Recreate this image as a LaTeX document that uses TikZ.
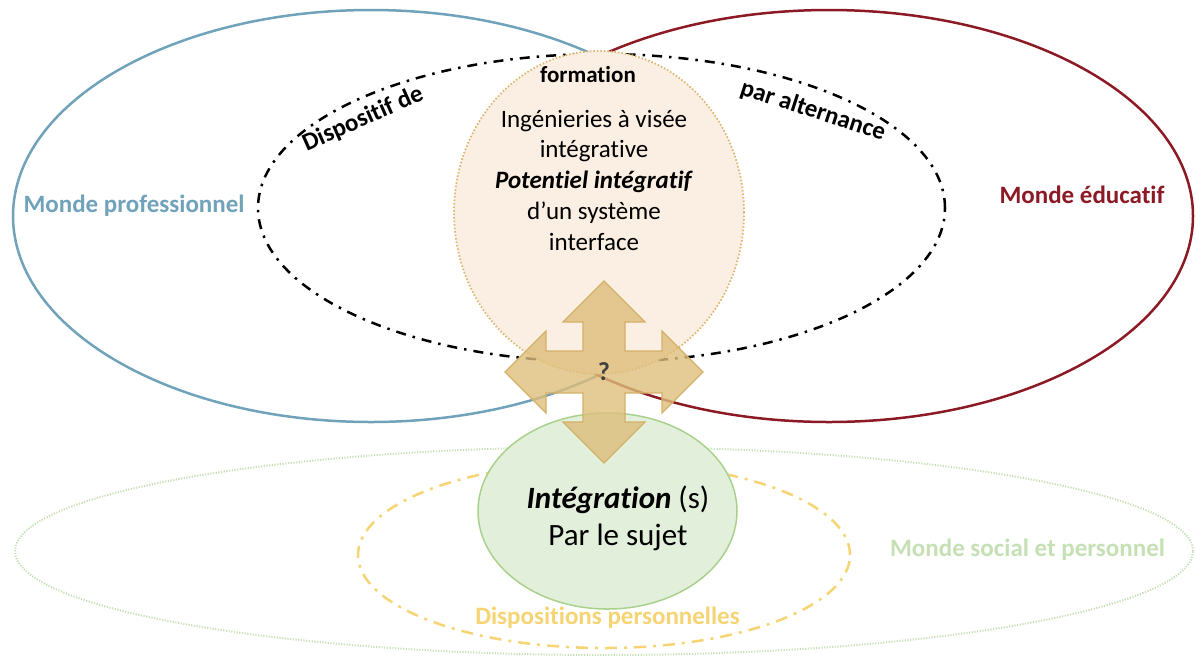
\documentclass[tikz,border=0pt]{standalone}
\usepackage{fontspec}
\setmainfont[Ligatures={NoCommon}, RawFeature={-calt;-liga;-clig}]{Carlito}
\usetikzlibrary{positioning}
\usetikzlibrary{shapes, arrows}
\definecolor{probleu}{RGB}{112,162,186}
\definecolor{edurouge}{RGB}{140,26,36}
\definecolor{peche}{RGB}{251,238,226}
\definecolor{pechebord}{RGB}{222,182,112}
\definecolor{vertfond}{RGB}{226,239,218}
\definecolor{vertbord}{RGB}{169,209,142}
\definecolor{vertpale}{RGB}{197,224,180}
\definecolor{jaune}{RGB}{247,212,115}
\definecolor{flechefond}{RGB}{222,190,122}
\definecolor{flechebord}{RGB}{212,176,105}
\tikzstyle{monde} = [ellipse, draw, line width=2.5pt, inner sep=0pt]
\tikzstyle{dispositif} = [ellipse, draw, line width=2.5pt, inner sep=0pt, dash pattern=on 10pt off 7pt on 2.5pt off 7pt]
\tikzstyle{ingenierie} = [ellipse, draw=pechebord, fill=peche, line width=1.8pt, inner sep=0pt, dash pattern=on 1.5pt off 2pt]
\tikzstyle{social} = [ellipse, draw=vertpale, line width=2pt, inner sep=0pt, dash pattern=on 1.2pt off 1.5pt]
\tikzstyle{perso} = [ellipse, draw=jaune, line width=2.5pt, inner sep=0pt, dash pattern=on 12pt off 7pt on 3pt off 7pt]
\tikzstyle{sujet} = [ellipse, draw=vertbord, fill=vertfond, line width=1.5pt, inner sep=0pt]
\tikzstyle{quadarrow} = [draw=flechebord, fill=flechefond, fill opacity=0.8, line width=1.2pt]
\tikzstyle{titre} = [font=\bfseries\fontsize{25}{30}\selectfont, anchor=base]
\tikzstyle{corps} = [font=\fontsize{25}{30.7}\selectfont, align=center, anchor=base]

\begin{document}
\begin{tikzpicture}[x=1pt, y=-1pt]
    \useasboundingbox (0,0) rectangle (1196,657);

    \node [monde, draw=probleu, minimum width=716pt, minimum height=412pt] (pro) at (371,216) {};
    \node [monde, draw=edurouge, minimum width=728pt, minimum height=412pt] (edu) at (829,216) {};
    \node [dispositif, minimum width=687pt, minimum height=308pt] (alternance) at (601.5,208) {};
    \node [ingenierie, minimum width=290pt, minimum height=323pt] (systeme) at (599,212.5) {};
    \node [social, minimum width=1178pt, minimum height=208pt] (monde_social) at (604,551) {};
    \node [perso, minimum width=492pt, minimum height=186pt] (dispositions) at (604,555) {};
    \node [sujet, minimum width=259pt, minimum height=196pt] (integration) at (607.5,511) {};

    \coordinate (hub) at (604,372);
    \draw [quadarrow, shift={(hub)}] (21,-21) -- (21,-50) -- (41,-50) -- (0,-91) -- (-41,-50) -- (-21,-50)
        -- (-21,-21) -- (-58,-21) -- (-58,-41) -- (-99,0) -- (-58,41) -- (-58,21) -- (-21,21)
        -- (-21,50) -- (-41,50) -- (0,91) -- (41,50) -- (21,50) -- (21,21)
        -- (58,21) -- (58,41) -- (99,0) -- (58,-41) -- (58,-21) -- cycle;
    \node [font=\bfseries\fontsize{26}{26}\selectfont, text=black!75] (question) at (hub) {?};

    \node [titre, text=probleu] (pro_label) at (134,212) {Monde professionnel};
    \node [titre, text=edurouge] (edu_label) at (1082,203) {Monde éducatif};
    \node [titre, text=vertpale] (social_label) at (1027.5,556) {Monde social et personnel};
    \node [titre, text=jaune] (perso_label) at (607.5,624) {Dispositions personnelles};
    \node [titre, font=\bfseries\fontsize{23}{28}\selectfont] (formation) at (588,82) {formation};
    \node [titre, anchor=center, rotate=24] (dispositif_de) at (363,119) {Dispositif de};
    \node [titre, anchor=center, rotate=-18] (par_alternance) at (813,111) {par alternance};

    \node [corps] (potentiel) at (594,250) {Ingénieries à visée\\intégrative\\\textbf{\textit{Potentiel intégratif}}\\d’un système\\interface};
    \node [corps, font=\fontsize{31}{37}\selectfont] (par_sujet) at (618,545) {\textbf{\textit{Intégration}} (s)\\Par le sujet};

\end{tikzpicture}
\end{document}
